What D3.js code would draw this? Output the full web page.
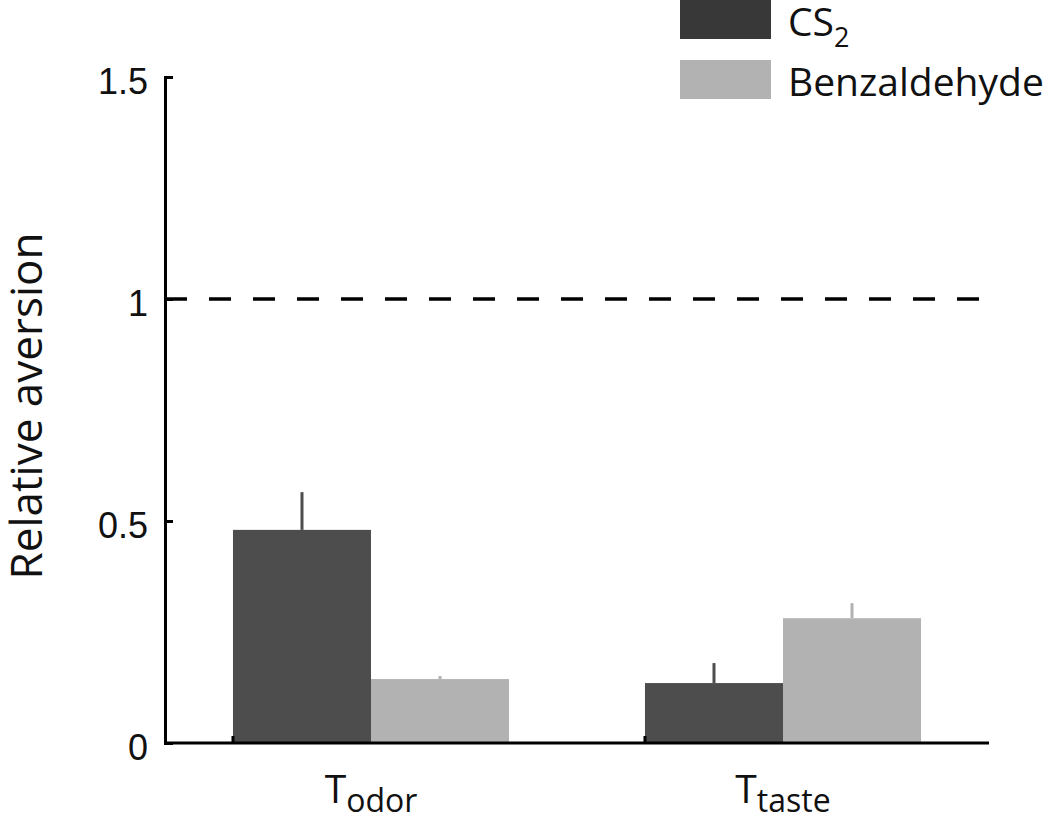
<!DOCTYPE html>
<html>
<head>
<meta charset="utf-8">
<script src="https://cdn.jsdelivr.net/npm/d3@7"></script>
<style>
  body { margin: 0; background: #fff; }
  svg { display: block; font-family: 'Open Sans', sans-serif; }
  .axis path, .axis line { stroke: #000; stroke-width: 3; }
  .axis text { font-size: 36px; fill: #111; }
</style>
</head>
<body>
<svg width="1050" height="819"></svg>
<script>
// data
const groups = ['odor', 'taste']
const series = ['CS2', 'Benzaldehyde']
const cs2 = [0.48, 0.135]
const cs2Err = [0.085, 0.045]
const benz = [0.144, 0.281]
const benzErr = [0.007, 0.034]
const yTicks = [0, 0.5, 1, 1.5]
const refLevel = 1

const margin = { top: 77, right: 61, bottom: 76, left: 165 }
const W = 1050
const H = 819
const width = W - margin.left - margin.right
const height = H - margin.top - margin.bottom

const colors = { CS2: '#4d4d4d', Benzaldehyde: '#b2b2b2' }
const legendColors = { CS2: '#383838', Benzaldehyde: '#b2b2b2' }

const rows = []
groups.forEach((g, i) => {
  rows.push({ group: g, key: 'CS2', value: cs2[i], err: cs2Err[i] })
  rows.push({ group: g, key: 'Benzaldehyde', value: benz[i], err: benzErr[i] })
})

const svg = d3.select('svg')
const g = svg.append('g').attr('transform', `translate(${margin.left},${margin.top})`)

const x0 = d3.scaleBand().domain(groups).range([0, width]).padding(0)
const pairW = x0.bandwidth() * 0.67
const x1 = d3.scaleBand().domain(series).range([0, pairW]).padding(0)
const y = d3.scaleLinear().domain([0, 1.5]).range([height, 0])
const start = d => x0(d) + (x0.bandwidth() - pairW) / 2

// dashed reference line
g.append('line')
  .attr('x1', 0).attr('x2', width)
  .attr('y1', y(refLevel)).attr('y2', y(refLevel))
  .attr('stroke', '#000')
  .attr('stroke-width', 3.5)
  .attr('stroke-dasharray', '22,22')

// error bars (upper only)
g.selectAll('.err').data(rows).enter()
  .append('line')
  .attr('class', 'err')
  .attr('x1', d => start(d.group) + x1(d.key) + x1.bandwidth() / 2)
  .attr('x2', d => start(d.group) + x1(d.key) + x1.bandwidth() / 2)
  .attr('y1', d => y(d.value))
  .attr('y2', d => y(d.value + d.err))
  .attr('stroke', d => colors[d.key])
  .attr('stroke-width', 3)

// bars
g.selectAll('.bar').data(rows).enter()
  .append('rect')
  .attr('class', 'bar')
  .attr('x', d => start(d.group) + x1(d.key))
  .attr('y', d => y(d.value))
  .attr('width', x1.bandwidth())
  .attr('height', d => y(0) - y(d.value))
  .attr('fill', d => colors[d.key])

// y axis, ticks pointing inward
const axisY = d3.axisLeft(y)
  .tickValues(yTicks)
  .tickFormat(d => d)
  .tickSizeInner(-8)
  .tickSizeOuter(-8)
  .tickPadding(17)

const gy = g.append('g').attr('class', 'axis axis-y').call(axisY)
gy.selectAll('text').attr('dy', '0.45em')

// x axis
const gx = g.append('g').attr('class', 'axis axis-x')
gx.append('line')
  .attr('x1', 0).attr('x2', width)
  .attr('y1', height).attr('y2', height)
  .attr('stroke-width', 3.5)
gx.selectAll('.xtick').data(groups).enter()
  .append('line')
  .attr('class', 'xtick')
  .attr('x1', d => start(d)).attr('x2', d => start(d))
  .attr('y1', height).attr('y2', height - 7)
  .attr('stroke-width', 2)

const xl = gx.selectAll('.xlabel').data(groups).enter()
  .append('text')
  .attr('class', 'xlabel')
  .attr('x', d => x0(d) + x0.bandwidth() / 2)
  .attr('y', height + 60)
  .attr('text-anchor', 'middle')
  .style('font-size', '39px')
xl.append('tspan').text('T')
xl.append('tspan')
  .attr('dy', 9)
  .style('font-size', '32px')
  .text(d => d)

// y label
svg.append('text')
  .attr('transform', `translate(42,${margin.top + height / 2 - 4}) rotate(-90)`)
  .attr('text-anchor', 'middle')
  .style('font-size', '44px')
  .attr('fill', '#111')
  .text('Relative aversion')

// legend
const legend = svg.append('g').attr('transform', 'translate(680,0)')
const li = legend.selectAll('.li').data(series).enter()
  .append('g')
  .attr('class', 'li')
  .attr('transform', (d, i) => `translate(0,${i * 60})`)
li.append('rect')
  .attr('width', 91)
  .attr('height', 39)
  .attr('fill', d => legendColors[d])
const lt = li.append('text')
  .attr('x', 108)
  .attr('y', 36)
  .style('font-size', '39px')
  .attr('fill', '#111')
lt.append('tspan').text(d => d === 'CS2' ? 'CS' : d)
lt.filter(d => d === 'CS2').append('tspan')
  .attr('dy', 11)
  .style('font-size', '27px')
  .text('2')
</script>
</body>
</html>
